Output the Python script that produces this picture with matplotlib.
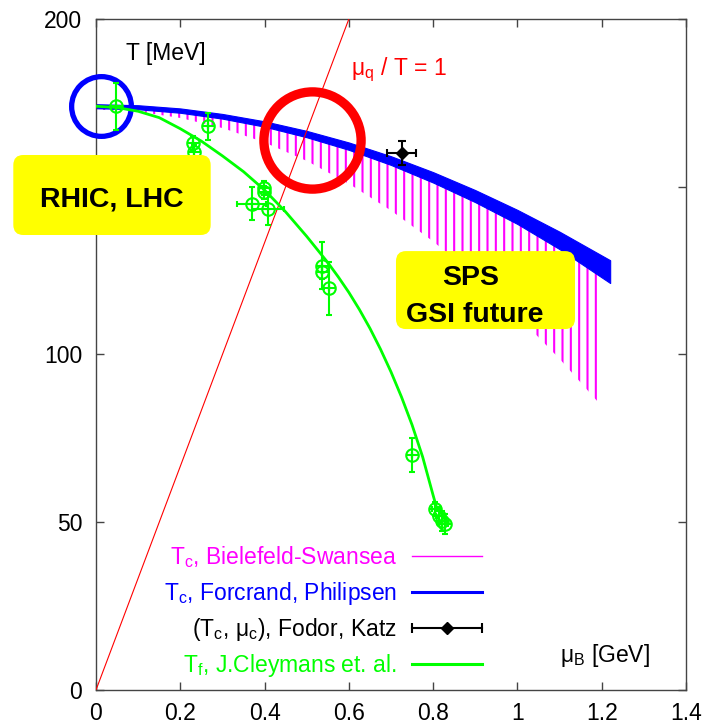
import matplotlib
matplotlib.use('Agg')
import matplotlib.pyplot as plt
from matplotlib.patches import FancyBboxPatch

plt.rcParams['font.family'] = ['Liberation Sans', 'DejaVu Sans']
plt.rcParams['mathtext.fontset'] = 'custom'
plt.rcParams['mathtext.rm'] = 'Liberation Sans'
plt.rcParams['mathtext.it'] = 'Liberation Sans'
plt.rcParams['hatch.linewidth'] = 1.5
plt.rcParams['hatch.color'] = '#ff00ff'

GREEN = '#00ff00'
MAGENTA = '#ff00ff'
BLUE = '#0000ff'

# Tc band, Forcrand-Philipsen (upper / lower edge)
mu_fp = [0.0, 0.1, 0.2, 0.3, 0.4, 0.5, 0.6, 0.7, 0.8, 0.9, 1.0, 1.1, 1.22]
fp_upper = [174.6, 174.3, 173.35, 171.7, 169.5, 166.65, 163.2, 159.1, 154.35, 149.0, 143.1, 136.6, 128.1]
fp_lower = [173.4, 173.1, 172.05, 170.3, 167.9, 164.75, 161.0, 156.5, 151.25, 145.4, 138.9, 131.4, 121.3]

# Tc band, Bielefeld-Swansea (hatched)
mu_bs = [0.0, 0.1, 0.2, 0.3, 0.4, 0.5, 0.6, 0.7, 0.8, 0.9, 1.0, 1.1, 1.2]
bs_upper = [174.0, 173.7, 172.7, 171.0, 168.7, 165.7, 162.1, 157.8, 152.8, 147.2, 141.0, 134.0, 126.0]
bs_lower = [173.0, 172.4, 170.5, 167.5, 163.2, 157.7, 150.9, 142.9, 133.7, 123.3, 111.6, 98.7, 84.6]

# freeze-out curve, Cleymans
mu_fo = [0.0, 0.05, 0.1, 0.15, 0.2, 0.25, 0.3, 0.35, 0.4, 0.45, 0.5, 0.55, 0.575,
         0.6, 0.625, 0.65, 0.675, 0.7, 0.725, 0.75, 0.775, 0.8, 0.81]
T_fo = [174.0, 173.6, 172.5, 170.6, 167.3, 163.6, 159.2, 154.5, 149.0, 142.5, 135.2, 127.4, 123.1,
        118.5, 113.4, 107.8, 101.6, 94.8, 87.3, 79.0, 69.5, 58.0, 53.5]

# freeze-out data points
g_mu = [0.047, 0.266, 0.231, 0.233, 0.399, 0.399, 0.369, 0.409, 0.537, 0.537, 0.553, 0.749, 0.805, 0.815, 0.822, 0.828]
g_T = [174.0, 168.0, 163.0, 160.5, 149.6, 148.3, 145.0, 143.3, 126.5, 124.5, 119.7, 70.0, 54.0, 52.0, 50.5, 49.5]
g_dT = [7, 4, 2, 2, 2, 2, 5, 4.6, 7, 2, 8, 5, 2, 2.5, 3, 3]
g_dmu = [0, 0, 0, 0, 0, 0, 0.034, 0.038, 0, 0, 0, 0, 0.008, 0.008, 0.008, 0.008]

# critical endpoint, Fodor-Katz
fk_mu, fk_T, fk_dmu, fk_dT = [0.725], [160.0], [0.035], [3.5]

# mu_q / T = 1
mu_line = [0.0, 0.6]
T_line = [0.0, 200.0]

# highlight circles
circ_mu = [0.0114, 0.5126]
circ_T = [174.0, 163.9]

xticks = [0, 0.2, 0.4, 0.6, 0.8, 1.0, 1.2, 1.4]
xticklabels = ['0', '0.2', '0.4', '0.6', '0.8', '1', '1.2', '1.4']
yticks = [0, 50, 100, 150, 200]
yticklabels = ['0', '50', '100', '', '200']  # 150 sits under the yellow box

fig = plt.figure(figsize=(7.09, 7.28), dpi=100)
ax = fig.add_axes([0.1354, 0.0522, 0.8322, 0.9217])
ax.set_xlim(0, 1.4)
ax.set_ylim(0, 200)

ax.fill_between(mu_bs, bs_lower, bs_upper, facecolor='none', edgecolor=MAGENTA,
                hatch='||', linewidth=0, zorder=1)
ax.fill_between(mu_fp, fp_lower, fp_upper, facecolor=BLUE, edgecolor=BLUE,
                linewidth=0.8, zorder=2)
ax.plot(mu_line, T_line, color='red', lw=0.8, zorder=3)
ax.plot(mu_fo, T_fo, color=GREEN, lw=2, zorder=4)

ax.plot(circ_mu[:1], circ_T[:1], 'o', ms=43, mfc='none', mec=BLUE, mew=3.8, clip_on=False, zorder=3)
ax.plot(circ_mu[1:], circ_T[1:], 'o', ms=70, mfc='none', mec='red', mew=6.7, clip_on=False, zorder=3)

ax.errorbar(g_mu, g_T, xerr=g_dmu, yerr=g_dT, fmt='none', ecolor=GREEN,
            elinewidth=1.5, capsize=2.5, capthick=1.5, zorder=5)
ax.plot(g_mu, g_T, 'o', ms=9, mfc='none', mec=GREEN, mew=1.5, zorder=5)
ax.plot(g_mu, g_T, '+', ms=9, mec=GREEN, mew=1.5, zorder=5)

ax.errorbar(fk_mu, fk_T, xerr=fk_dmu, yerr=fk_dT, fmt='D', color='k', ms=6,
            elinewidth=1.5, capsize=3, capthick=1.5, zorder=6)

# axes style
for s in ax.spines.values():
    s.set_color('#444444')
    s.set_linewidth(1)
ax.set_xticks(xticks)
ax.set_xticklabels(xticklabels)
ax.set_yticks(yticks)
ax.set_yticklabels(yticklabels)
ax.tick_params(direction='in', length=5.5, width=1, color='#444444',
               top=True, right=True, labelsize=16.5)
ax.tick_params(axis='x', pad=9)
ax.tick_params(axis='y', pad=10)

ax.text(0.1186, 0.949, 'T [MeV]', transform=ax.transAxes, ha='center', va='center', fontsize=16.5)
ax.text(0.5136, 0.924, r'$\mathrm{μ}_{\mathrm{q}}$ / T = 1', transform=ax.transAxes,
        ha='center', va='center', fontsize=16.5, color='red')
ax.text(0.8627, 0.052, r'$\mathrm{μ}_{\mathrm{B}}$ [GeV]', transform=ax.transAxes,
        ha='center', va='center', fontsize=16.5)

# legend
leg_labels = [r'$\mathrm{T}_{\mathrm{c}}$, Bielefeld-Swansea',
              r'$\mathrm{T}_{\mathrm{c}}$, Forcrand, Philipsen',
              r'($\mathrm{T}_{\mathrm{c}}$, $\mathrm{μ}_{\mathrm{c}}$), Fodor, Katz',
              r'$\mathrm{T}_{\mathrm{f}}$, J.Cleymans et. al.']
leg_colors = [MAGENTA, BLUE, 'k', GREEN]
leg_widths = [1.0, 2.2, 1.5, 2.2]
for i, (lab, c, w) in enumerate(zip(leg_labels, leg_colors, leg_widths)):
    yb = 0.1878 - i * 0.05365
    ax.text(0.5096, yb, lab, transform=ax.transAxes, ha='right', va='baseline',
            fontsize=16.5, color=c)
    yl = yb + 0.0119
    ax.plot([0.535, 0.654], [yl, yl], color=c, lw=w, transform=ax.transAxes, clip_on=False)
    if i == 2:
        ax.plot([0.5945], [yl], 'D', color='k', ms=6, transform=ax.transAxes, clip_on=False)
        ax.plot([0.535, 0.654], [yl, yl], '|', color='k', ms=7, mew=1.5,
                transform=ax.transAxes, clip_on=False)

# yellow labels
boxes = [(0.01876, 0.6772, 0.2784, 0.1099), (0.5585, 0.548, 0.2525, 0.1071)]
for (x0, y0, w, h) in boxes:
    fig.patches.append(FancyBboxPatch((x0, y0), w, h, boxstyle='round,pad=0,rounding_size=0.014',
                                      transform=fig.transFigure, facecolor='#ffff00',
                                      edgecolor='none', zorder=10))
bold = dict(fontsize=20.5, fontweight='bold', ha='center', va='baseline', zorder=11)
fig.text(0.158, 0.716, 'RHIC, LHC', **bold)
fig.text(0.6636, 0.6085, 'SPS', **bold)
fig.text(0.669, 0.558, 'GSI future', **bold)

fig.savefig('out.png', dpi=100)
